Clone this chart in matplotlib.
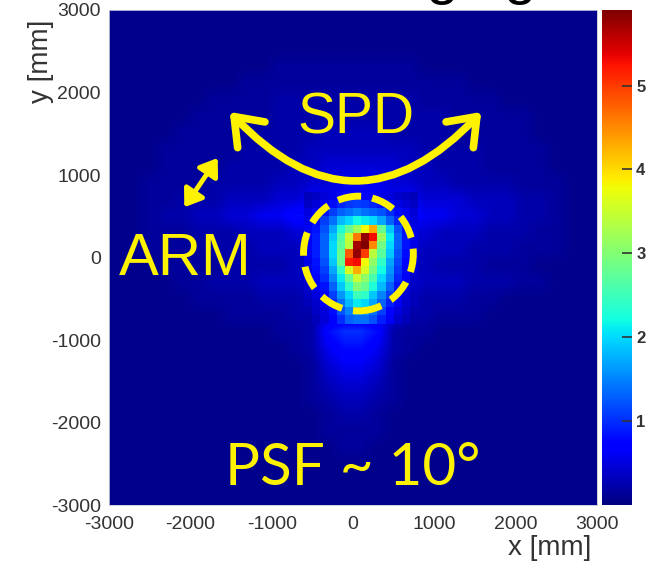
import numpy as np
import matplotlib
matplotlib.use("Agg")
import matplotlib.pyplot as plt
from matplotlib.patches import FancyArrowPatch, Ellipse, ArrowStyle

plt.rcParams["axes.unicode_minus"] = False

# background intensity codes, 200 mm bins, top row is y=+3000
bg_rows = [
    "111111111111111111111111111111",
    "111111111111111111111111111111",
    "111111111111111111111111111111",
    "111111111122222222211111111111",
    "111111112222222222222211111111",
    "111111222233333333322222111111",
    "111112222233333333333222221111",
    "111122222333344443333222221111",
    "111222223333444444433332222111",
    "111222233334455555443332222111",
    "112222333344556665544333322211",
    "112233344455666666655544433211",
    "112334455667777777766554433211",
    "112223334445555555554443332211",
    "112222333444555555544433322211",
    "111222233334444444443332221111",
    "111122333444555555544433322111",
    "111112222333444444433322111111",
    "111111122223355555332221111111",
    "111111111122378873221111111111",
    "111111111112367763211111111111",
    "111111111111256652111111111111",
    "111111111111245542111111111111",
    "111111111111234432111111111111",
    "111111111111123321111111111111",
    "111111111111122221111111111111",
    "111111111111112211111111111111",
    "111111111111111111111111111111",
    "111111111111111111111111111111",
    "111111111111111111111111111111",
]
bg_levels = [0.0, 0.08, 0.15, 0.22, 0.32, 0.45, 0.6, 0.8, 1.0, 1.25]

# centre of the image, 100 mm bins
core_x_edges = np.arange(-600, 801, 100)
core_y_edges = np.arange(800, -801, -100)
core_vals = [
    [0.3, 0.35, 0.45, 0.55, 0.65, 0.75, 0.8, 0.75, 0.65, 0.55, 0.5, 0.4, 0.35, 0.3],
    [0.35, 0.45, 0.6, 0.8, 0.95, 1.05, 1.1, 1.05, 0.95, 0.85, 0.7, 0.55, 0.45, 0.35],
    [0.5, 0.65, 0.85, 1.1, 1.3, 1.4, 1.5, 1.4, 1.3, 1.2, 1.0, 0.8, 0.6, 0.45],
    [0.55, 0.8, 1.1, 1.4, 1.8, 2.0, 2.2, 2.1, 2.0, 1.7, 1.3, 0.95, 0.7, 0.5],
    [0.6, 0.85, 1.2, 1.7, 2.3, 2.8, 3.2, 3.8, 4.3, 2.8, 1.9, 1.2, 0.8, 0.55],
    [0.6, 0.9, 1.3, 1.9, 2.6, 3.5, 4.6, 5.8, 5.3, 3.2, 2.1, 1.3, 0.85, 0.55],
    [0.6, 0.9, 1.3, 2.0, 2.7, 3.4, 5.7, 5.9, 4.5, 2.9, 2.0, 1.3, 0.85, 0.55],
    [0.6, 0.9, 1.3, 2.0, 2.8, 4.8, 5.8, 5.0, 3.4, 2.7, 1.9, 1.2, 0.8, 0.55],
    [0.55, 0.85, 1.2, 1.9, 2.8, 5.2, 5.3, 3.8, 3.1, 2.4, 1.7, 1.15, 0.75, 0.5],
    [0.5, 0.8, 1.1, 1.7, 2.4, 3.6, 4.3, 3.6, 2.9, 2.2, 1.6, 1.05, 0.7, 0.45],
    [0.45, 0.7, 1.0, 1.5, 2.1, 2.8, 3.5, 3.1, 2.6, 2.0, 1.5, 0.95, 0.6, 0.4],
    [0.4, 0.6, 0.85, 1.3, 1.9, 2.4, 3.0, 2.8, 2.3, 1.8, 1.3, 0.85, 0.5, 0.35],
    [0.35, 0.5, 0.7, 1.1, 1.6, 2.0, 2.5, 2.4, 1.9, 1.5, 1.1, 0.7, 0.45, 0.3],
    [0.3, 0.4, 0.6, 0.95, 1.4, 1.8, 2.1, 2.0, 1.7, 1.3, 0.9, 0.6, 0.4, 0.3],
    [0.25, 0.35, 0.5, 0.8, 1.2, 1.5, 1.7, 1.6, 1.4, 1.1, 0.75, 0.5, 0.35, 0.25],
    [0.2, 0.3, 0.45, 0.7, 1.0, 1.3, 1.4, 1.4, 1.2, 0.9, 0.6, 0.4, 0.3, 0.2],
]

axis_ticks = [-3000, -2000, -1000, 0, 1000, 2000, 3000]
cbar_ticks = [1, 2, 3, 4, 5]
vmin, vmax = 0.0, 5.9
yellow = "#FFF200"
txt_gray = "#333333"

bg = np.array([[bg_levels[int(c)] for c in row] for row in bg_rows])

fig = plt.figure(figsize=(6.67, 5.68), dpi=100)
ax = fig.add_axes([0.1634, 0.1109, 0.7316, 0.8715])
cax = fig.add_axes([0.9025, 0.1109, 0.045, 0.8715])

im = ax.imshow(bg, extent=(-3000, 3000, -3000, 3000), origin="upper", cmap="jet",
               vmin=vmin, vmax=vmax, interpolation="bilinear", aspect="auto")
ax.pcolormesh(core_x_edges, core_y_edges, np.array(core_vals), cmap="jet",
              vmin=vmin, vmax=vmax, shading="flat", zorder=2)
ax.set_xlim(-3000, 3000)
ax.set_ylim(-3000, 3000)
ax.set_xticks(axis_ticks)
ax.set_yticks(axis_ticks)
ax.tick_params(length=0, labelsize=14, labelcolor=txt_gray)
ax.tick_params(axis="x", pad=8)
ax.tick_params(axis="y", pad=6)
for lab in ax.get_xticklabels() + ax.get_yticklabels():
    lab.set_family("Liberation Sans")
for s in ax.spines.values():
    s.set_color("#c8c8d8")
    s.set_linewidth(0.6)

cb = fig.colorbar(im, cax=cax, ticks=cbar_ticks)
cb.outline.set_visible(False)
cax.tick_params(direction="in", length=7, width=1.2, color=txt_gray,
                labelsize=12, labelcolor=txt_gray, pad=3)
for lab in cax.get_yticklabels():
    lab.set_family("Liberation Sans")
    lab.set_weight("bold")

fig.text(0.0615, 0.8926, "y [mm]", rotation=90, ha="center", va="center",
         fontsize=20, color=txt_gray, family="Liberation Sans")
fig.text(0.8246, 0.0352, "x [mm]", ha="center", va="center",
         fontsize=20, color=txt_gray, family="Liberation Sans")
fig.text(0.805, 1.012, "Imaging", ha="right", va="baseline",
         fontsize=42, color="black", family="Liberation Sans")

# annotations drawn on the slide
spd = FancyArrowPatch((-1515, 1764), (1577, 1764),
                      connectionstyle="arc3,rad=0.53",
                      arrowstyle=ArrowStyle("<->", head_length=0.6, head_width=0.45),
                      mutation_scale=30, lw=5.5, color=yellow,
                      shrinkA=0, shrinkB=0, zorder=5)
ax.add_patch(spd)
arm = FancyArrowPatch((-2074, 609), (-1663, 1206),
                      arrowstyle=ArrowStyle("<|-|>", head_length=0.5, head_width=0.35),
                      mutation_scale=20, lw=3.5, color=yellow,
                      shrinkA=0, shrinkB=0, zorder=5)
ax.add_patch(arm)
ring = Ellipse((67, 48), 1350, 1390, fill=False, ec=yellow, lw=5,
               linestyle=(0, (3.4, 1.6)), zorder=5)
ax.add_patch(ring)

ax.text(40, 1509, "SPD", ha="center", va="baseline", fontsize=41,
        color=yellow, family="Liberation Sans", zorder=6)
ax.text(-2067, -212, "ARM", ha="center", va="baseline", fontsize=43,
        color=yellow, family="Liberation Sans", zorder=6)
ax.text(0, -2757, "PSF ~ 10°", ha="center", va="baseline", fontsize=42,
        color=yellow, family="Lato", zorder=6)

fig.savefig("out.png", dpi=100)
